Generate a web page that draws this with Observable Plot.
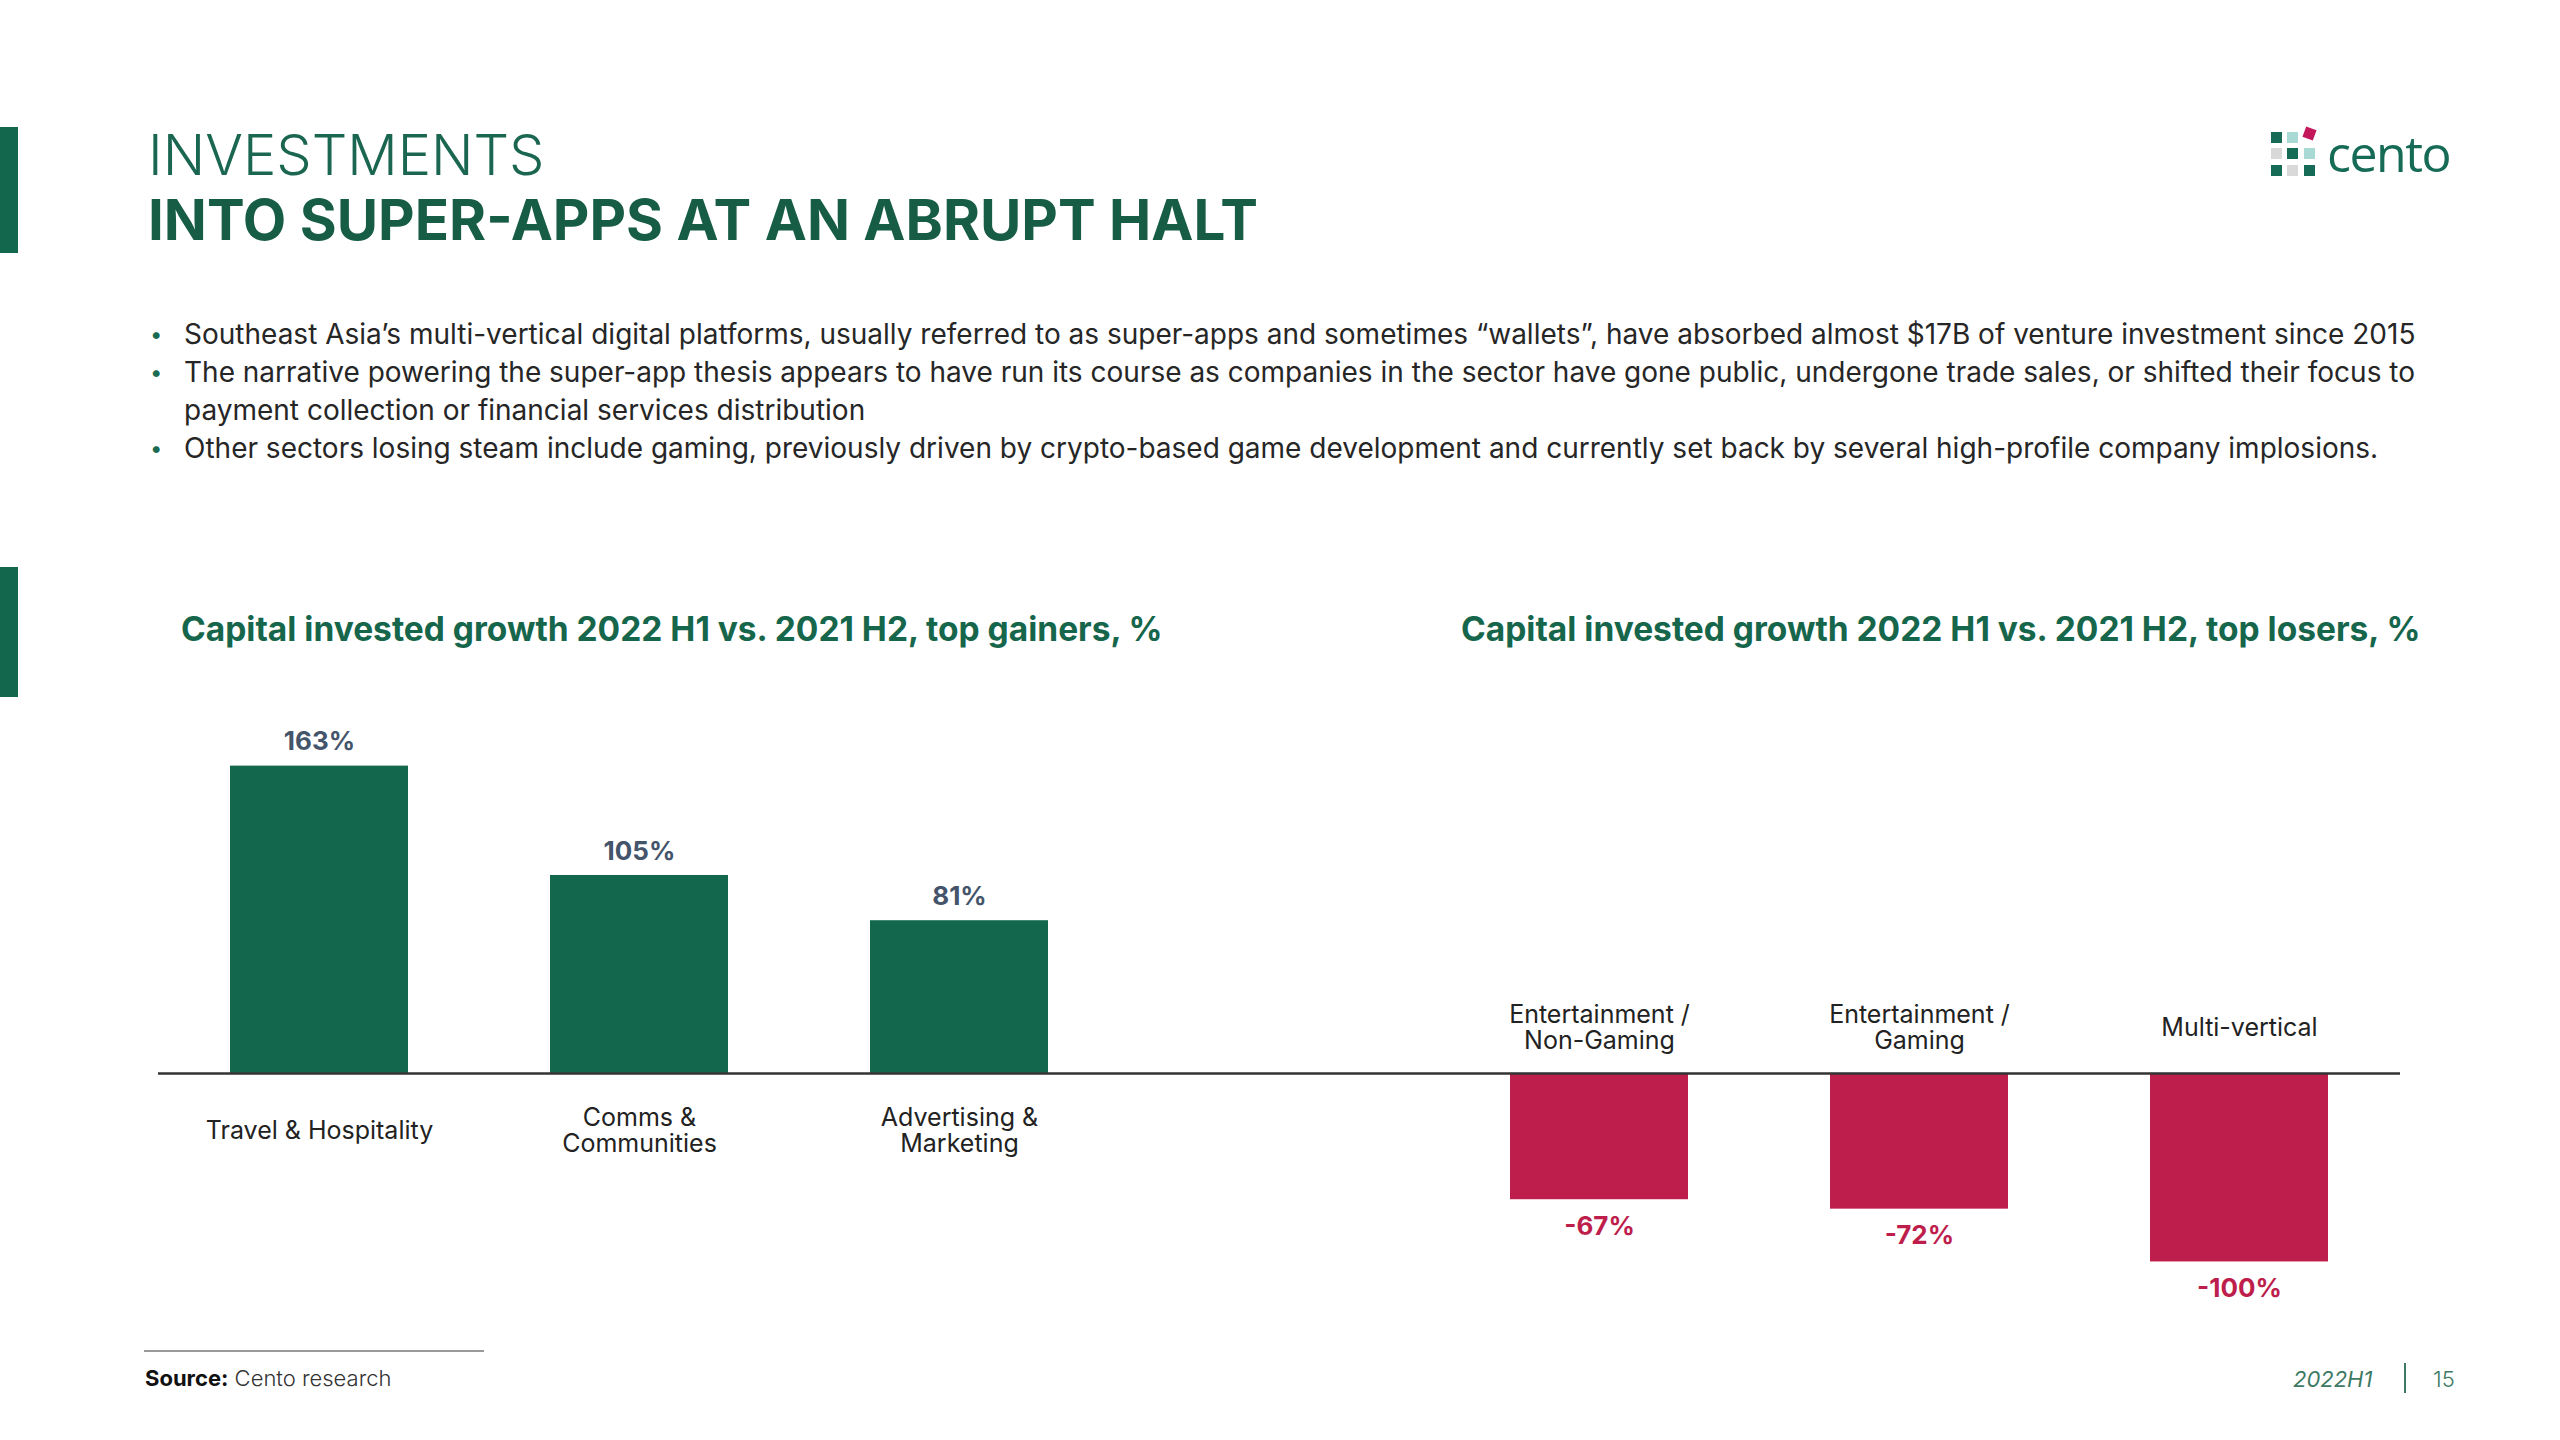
<!DOCTYPE html>
<html>
<head>
<meta charset="utf-8">
<script src="https://cdn.jsdelivr.net/npm/d3@7"></script>
<script src="https://cdn.jsdelivr.net/npm/@observablehq/plot@0.6"></script>
<style>
  html, body { margin: 0; padding: 0; background: #fff; }
  #page { position: relative; width: 2560px; height: 1440px; overflow: hidden; font-family: Inter, "Noto Sans", sans-serif; }
  .abs { position: absolute; white-space: nowrap; }
  .accent { position: absolute; left: 0; width: 18px; background: #13674d; }
  .t1 { left: 148px; top: 127px; font-size: 56px; line-height: 1; font-weight: 300; color: #1a6650; }
  .t2 { left: 148px; top: 192px; font-size: 56.5px; line-height: 1; font-weight: 700; color: #175c44; }
  .bullets { left: 150px; top: 315px; font-size: 28px; line-height: 38px; color: #262626; font-weight: 400; }
  .bullets .row { position: relative; padding-left: 34px; }
  .bullets .row::before { content: "•"; position: absolute; left: 0; color: #1a6b4f; font-size: 22px; }
  .sub { top: 613px; font-size: 33.5px; line-height: 1; font-weight: 700; color: #16664c; }
  .src { left: 145px; top: 1367px; font-size: 22px; line-height: 1; color: #333; font-weight: 300; }
  .src b { font-weight: 700; color: #111; }
  .rule { position: absolute; left: 144px; top: 1350px; width: 340px; height: 2px; background: #999; }
  .foot { top: 1368px; font-size: 22px; line-height: 1; color: #3d7a64; }
  #chart { position: absolute; left: 0; top: 700px; }
</style>
</head>
<body>
<div id="page">
  <div class="accent" style="top:127px;height:126px"></div>
  <div class="accent" style="top:567px;height:130px"></div>
  <div class="abs t1">INVESTMENTS</div>
  <div class="abs t2">INTO SUPER-APPS AT AN ABRUPT HALT</div>

  <svg class="abs" style="left:2266px;top:124px" width="60" height="56" viewBox="0 0 60 56">
    <rect x="5" y="8" width="11" height="11" fill="#156b55"/>
    <rect x="21" y="8" width="11" height="11" fill="#a9d9d4"/>
    <rect x="38" y="4" width="11" height="11" fill="#c2185b" transform="rotate(20 43.5 9.5)"/>
    <rect x="5" y="24" width="11" height="11" fill="#d9d9d9"/>
    <rect x="21" y="24" width="11" height="11" fill="#156b55"/>
    <rect x="38" y="24" width="11" height="11" fill="#a9d9d4"/>
    <rect x="5" y="41" width="11" height="11" fill="#156b55"/>
    <rect x="21" y="41" width="11" height="11" fill="#d9d9d9"/>
    <rect x="38" y="41" width="11" height="11" fill="#156b55"/>
  </svg>
  <div class="abs" style="left:2327px;top:128px;font-family:'Open Sans',Lato,sans-serif;font-size:50px;line-height:1;color:#156b55;font-weight:500;letter-spacing:-1.5px">cento</div>

  <div class="abs bullets">
    <div class="row">Southeast Asia’s multi-vertical digital platforms, usually referred to as super-apps and sometimes “wallets”, have absorbed almost $17B of venture investment since 2015</div>
    <div class="row">The narrative powering the super-app thesis appears to have run its course as companies in the sector have gone public, undergone trade sales, or shifted their focus to<br>payment collection or financial services distribution</div>
    <div class="row">Other sectors losing steam include gaming, previously driven by crypto-based game development and currently set back by several high-profile company implosions.</div>
  </div>

  <div class="abs sub" style="left:181px">Capital invested growth 2022 H1 vs. 2021 H2, top gainers, %</div>
  <div class="abs sub" style="left:1461px">Capital invested growth 2022 H1 vs. 2021 H2, top losers, %</div>

  <div id="chart"></div>

  <div class="rule"></div>
  <div class="abs src"><b>Source:</b> Cento research</div>
  <div class="abs foot" style="left:2293px;font-style:italic;font-weight:400">2022H1</div>
  <div class="abs" style="left:2404px;top:1363px;width:2px;height:30px;background:#3d7a64"></div>
  <div class="abs foot" style="left:2433px;font-weight:300">15</div>
</div>

<script>
// ---- data ----
const categories = ["Travel & Hospitality", "Comms & Communities", "Advertising & Marketing", "Entertainment / Non-Gaming", "Entertainment / Gaming", "Multi-vertical"];
const tickLabels = ["Travel & Hospitality", "Comms &\nCommunities", "Advertising &\nMarketing", "Entertainment /\nNon-Gaming", "Entertainment /\nGaming", "Multi-vertical"];
const growthPct = [163, 105, 81, -67, -72, -100];
const gapSlot = " ";  // empty slot between gainers and losers
const xDomain = [categories[0], categories[1], categories[2], gapSlot, categories[3], categories[4], categories[5]];

const data = categories.map((c, i) => ({category: c, label: tickLabels[i], value: growthPct[i]}));
const gainers = data.filter(d => d.value > 0);
const losers = data.filter(d => d.value < 0);

const GREEN = "#13674d", RED = "#bd1e4c";

const chart = Plot.plot({
  width: 2560,
  height: 640,
  marginLeft: 158,
  marginRight: 160,
  marginTop: 43,
  marginBottom: 22,
  style: {fontFamily: "Inter, 'Noto Sans', sans-serif", background: "transparent"},
  x: {domain: xDomain, axis: null, paddingInner: 0.444, paddingOuter: 0.222},
  y: {domain: [-130, 175], axis: null},
  marks: [
    Plot.barY(gainers, {x: "category", y: "value", fill: GREEN}),
    Plot.barY(losers, {x: "category", y: "value", fill: RED}),
    Plot.ruleY([0], {stroke: "#333", strokeWidth: 2.5}),
    Plot.text(gainers, {x: "category", y: "value", text: d => d.value + "%", dy: -24, fill: "#44546a", fontSize: 26, fontWeight: 700, lineAnchor: "middle"}),
    Plot.text(losers, {x: "category", y: "value", text: d => d.value + "%", dy: 27, fill: RED, fontSize: 26, fontWeight: 700, lineAnchor: "middle"}),
    Plot.text(gainers, {x: "category", y: 0, text: "label", dy: 57, fill: "#222", fontSize: 25, lineHeight: 1.05, lineAnchor: "middle"}),
    Plot.text(losers, {x: "category", y: 0, text: "label", dy: -46, fill: "#222", fontSize: 25, lineHeight: 1.05, lineAnchor: "middle"})
  ]
});
document.getElementById("chart").appendChild(chart);
</script>
</body>
</html>
